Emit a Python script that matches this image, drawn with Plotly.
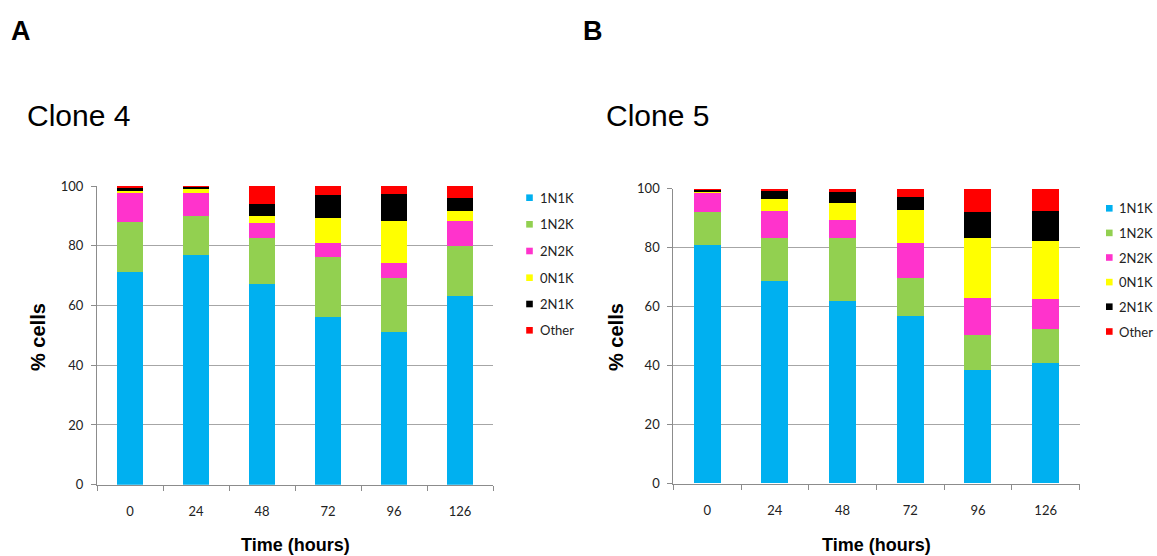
import plotly.graph_objects as go

# Time points (hours)
categories = ["0", "24", "48", "72", "96", "126"]
series_names = ["1N1K", "1N2K", "2N2K", "0N1K", "2N1K", "Other"]

# Clone 4: % cells per configuration
clone4_1N1K = [71.1, 76.8, 67.3, 56.0, 51.0, 63.3]
clone4_1N2K = [16.7, 13.3, 15.2, 20.2, 18.3, 16.6]
clone4_2N2K = [9.9, 7.6, 5.0, 4.6, 4.9, 8.5]
clone4_0N1K = [0.6, 1.6, 2.3, 8.6, 14.1, 3.3]
clone4_2N1K = [0.9, 0.6, 4.1, 7.6, 8.9, 4.2]
clone4_other = [0.8, 0.1, 6.1, 3.0, 2.8, 4.1]

# Clone 5: % cells per configuration
clone5_1N1K = [80.8, 68.7, 62.0, 56.7, 38.4, 40.9]
clone5_1N2K = [11.3, 14.7, 21.4, 12.9, 11.9, 11.5]
clone5_2N2K = [6.8, 9.1, 5.9, 12.0, 12.6, 10.2]
clone5_0N1K = [0.4, 4.0, 5.7, 11.3, 20.5, 19.6]
clone5_2N1K = [0.4, 2.9, 3.9, 4.4, 8.7, 10.3]
clone5_other = [0.3, 0.6, 1.1, 2.7, 7.9, 7.5]

y_ticks = [0, 20, 40, 60, 80, 100]

colors = ["#00B0F0", "#92D050", "#FF33CC", "#FFFF00", "#000000", "#FF0000"]

clone4 = [clone4_1N1K, clone4_1N2K, clone4_2N2K, clone4_0N1K, clone4_2N1K, clone4_other]
clone5 = [clone5_1N1K, clone5_1N2K, clone5_2N2K, clone5_0N1K, clone5_2N1K, clone5_other]

W, H = 1157, 556
# vertical placement helpers (top offset / usable drawing height)
Y_OFF, Y_SPAN = 8, 540


def px_x(x):
    return x / W


def px_y(y):
    return 1 - (y - Y_OFF) / Y_SPAN


fig = go.Figure()

for name, vals, col in zip(series_names, clone4, colors):
    fig.add_trace(go.Bar(x=categories, y=vals, name=name, marker=dict(color=col, line=dict(width=0)),
                         xaxis="x", yaxis="y", showlegend=False))
for name, vals, col in zip(series_names, clone5, colors):
    fig.add_trace(go.Bar(x=categories, y=vals, name=name, marker=dict(color=col, line=dict(width=0)),
                         xaxis="x2", yaxis="y2", showlegend=False))

tick_font = dict(family="Lato, 'Noto Sans', sans-serif", size=13, color="#222")
grid_col = "#a6a6a6"
axis_col = "#8c8c8c"

xaxis_common = dict(type="category", showgrid=False, showline=True, linecolor=axis_col, linewidth=1,
                    ticks="outside", tickson="boundaries", ticklen=5, tickcolor=axis_col,
                    tickfont=tick_font, ticklabelstandoff=15, fixedrange=True)
yaxis_common = dict(range=[0, 100], tickvals=y_ticks, showgrid=True, gridcolor=grid_col, gridwidth=1,
                    showline=True, linecolor=axis_col, linewidth=1, ticks="outside", ticklen=5,
                    tickcolor=axis_col, tickfont=tick_font, ticklabelstandoff=5,
                    zeroline=False, fixedrange=True)

fig.update_layout(
    width=W, height=H,
    margin=dict(l=0, r=0, t=0, b=0),
    paper_bgcolor="white", plot_bgcolor="white",
    barmode="stack", bargap=0.6,
    xaxis=dict(domain=[px_x(97), px_x(493)], anchor="y", **xaxis_common),
    yaxis=dict(domain=[px_y(484.7), px_y(186)], anchor="x", **yaxis_common),
    xaxis2=dict(domain=[px_x(673.3), px_x(1079.5)], anchor="y2", **xaxis_common),
    yaxis2=dict(domain=[px_y(483.5), px_y(188.7)], anchor="x2", **yaxis_common),
)

sans = "'Liberation Sans', Arial, sans-serif"
annotations = []


def text(x, y, s, size, bold=False, xanchor="center", angle=0, family=sans):
    annotations.append(dict(
        x=px_x(x), y=px_y(y), xref="paper", yref="paper", text=f"<b>{s}</b>" if bold else s,
        showarrow=False, xanchor=xanchor, yanchor="middle", textangle=angle,
        font=dict(family=family, size=size, color="black")))


# Panel letters and titles
text(9, 31, "A", 27, bold=True, xanchor="left")
text(581, 31, "B", 27, bold=True, xanchor="left")
text(25, 116, "Clone 4", 30, xanchor="left")
text(604, 116, "Clone 5", 30, xanchor="left")

# Axis titles
text(38, 337, "% cells", 20, bold=True, angle=-90)
text(616, 337, "% cells", 20, bold=True, angle=-90)
text(295.5, 545, "Time (hours)", 18, bold=True)
text(876, 545, "Time (hours)", 18, bold=True)

# Legends
shapes = []
legend_font = "Lato, 'Noto Sans', sans-serif"


def legend(x_sq, x_txt, ys):
    for name, col, y in zip(series_names, colors, ys):
        shapes.append(dict(type="rect", xref="paper", yref="paper",
                           x0=px_x(x_sq - 3.3), x1=px_x(x_sq + 3.3),
                           y0=px_y(y + 3.3), y1=px_y(y - 3.3),
                           fillcolor=col, line=dict(width=0)))
        annotations.append(dict(x=px_x(x_txt), y=px_y(y), xref="paper", yref="paper", text=name,
                                showarrow=False, xanchor="left", yanchor="middle",
                                font=dict(family=legend_font, size=13, color="#222")))


legend(529.5, 537.5, [197.7, 224.3, 251.0, 277.7, 304.0, 330.3])
legend(1109.3, 1117.3, [208.3, 232.9, 257.5, 282.1, 306.7, 331.5])

fig.update_layout(annotations=annotations, shapes=shapes)

fig.write_html("out.html", config={"displayModeBar": False})
